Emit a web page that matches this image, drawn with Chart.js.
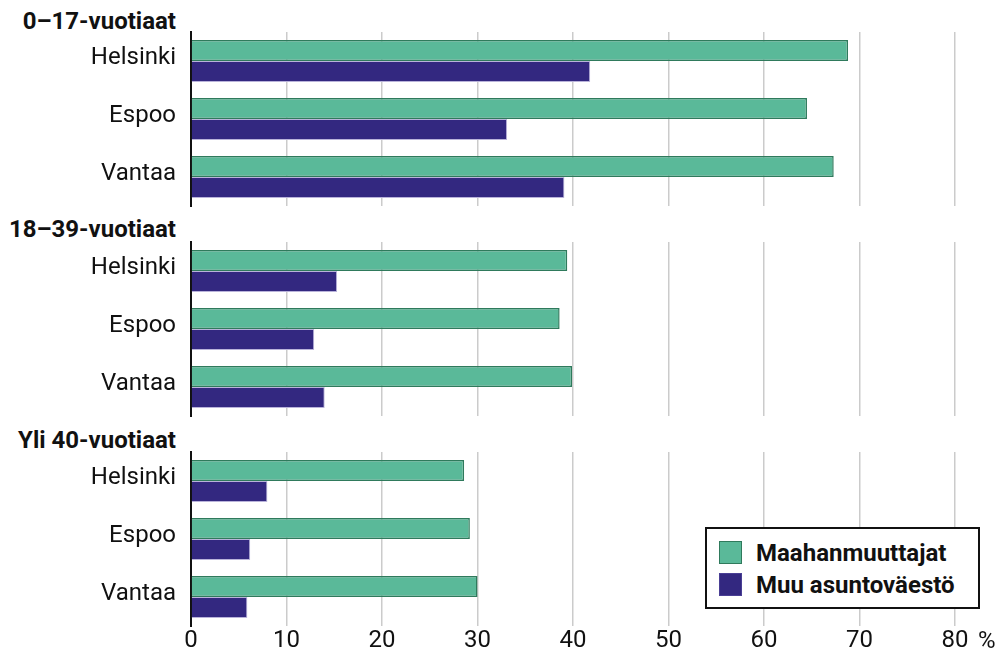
<!DOCTYPE html>
<html lang="fi">
<head>
<meta charset="utf-8">
<script src="https://cdn.jsdelivr.net/npm/chart.js@4/dist/chart.umd.min.js"></script>
<style>
  html, body { margin: 0; padding: 0; background: #fff; overflow: hidden; }
  body { width: 1005px; height: 652px; position: relative; font-family: Roboto, sans-serif; color: #111; }
  .panel { position: absolute; left: 0; width: 1005px; }
  .otsikko { position: absolute; left: 0; width: 176px; text-align: right; font-weight: bold; font-size: 24px; line-height: 24px; white-space: nowrap; }
  .prosentti { position: absolute; left: 978px; top: 628px; font-size: 24px; line-height: 24px; }
  #selite { position: absolute; left: 705px; top: 527px; width: 271px; height: 78px; border: 2px solid #111; background: #fff; }
  .rivi { position: absolute; left: 12px; height: 24px; font-weight: bold; font-size: 24px; line-height: 24px; white-space: nowrap; }
  .ruutu { position: absolute; left: 0; top: 0; width: 21px; height: 21px; border: 1.5px solid; }
  .rivi span { position: absolute; left: 37px; top: 0; }
</style>
</head>
<body>
<div class="otsikko" id="ot0" style="top: 9px;"></div>
<div class="otsikko" id="ot1" style="top: 217px;"></div>
<div class="otsikko" id="ot2" style="top: 428px;"></div>
<div class="panel" style="top: 30px; height: 178px;"><canvas id="kaavio0"></canvas></div>
<div class="panel" style="top: 240px; height: 178px;"><canvas id="kaavio1"></canvas></div>
<div class="panel" style="top: 450px; height: 214px;"><canvas id="kaavio2"></canvas></div>
<div class="prosentti">%</div>
<div id="selite"></div>

<script>
// Aineisto
const kaupungit = ['Helsinki', 'Espoo', 'Vantaa'];
const ikaryhmat = ['0–17-vuotiaat', '18–39-vuotiaat', 'Yli 40-vuotiaat'];
const sarjat = ['Maahanmuuttajat', 'Muu asuntoväestö'];

const maahanmuuttajat_0_17 = [68.8, 64.5, 67.3];
const muu_0_17 = [41.8, 33.1, 39.1];
const maahanmuuttajat_18_39 = [39.4, 38.6, 39.9];
const muu_18_39 = [15.3, 12.9, 14.0];
const maahanmuuttajat_40 = [28.6, 29.2, 30.0];
const muu_40 = [8.0, 6.2, 5.9];

const xTikit = [0, 10, 20, 30, 40, 50, 60, 70, 80];

const varit = ['#5ab999', '#332880'];
const reunat = ['#2f7a5c', '#b9b3da'];

Chart.defaults.font.family = 'Roboto';
Chart.defaults.font.size = 24;
Chart.defaults.color = '#111';

const paneelit = [
    [maahanmuuttajat_0_17, muu_0_17],
    [maahanmuuttajat_18_39, muu_18_39],
    [maahanmuuttajat_40, muu_40]
];

paneelit.forEach((arvot, i) => {
    document.getElementById('ot' + i).textContent = ikaryhmat[i];
    const alin = i === paneelit.length - 1;

    new Chart(document.getElementById('kaavio' + i), {
        type: 'bar',
        data: {
            labels: kaupungit,
            datasets: arvot.map((data, s) => ({
                label: sarjat[s],
                data: data,
                backgroundColor: varit[s],
                borderColor: reunat[s],
                borderWidth: s === 0 ? 1.5 : 1,
                borderSkipped: 'start',
                categoryPercentage: 0.72,
                barPercentage: 1
            }))
        },
        options: {
            indexAxis: 'y',
            responsive: true,
            maintainAspectRatio: false,
            animation: false,
            layout: { padding: { top: 2, bottom: alin ? 0 : 2, left: 0, right: 50 } },
            plugins: { legend: { display: false }, tooltip: { enabled: false } },
            scales: {
                x: {
                    min: 0,
                    max: 80,
                    afterBuildTicks: (scale) => { scale.ticks = xTikit.map(v => ({ value: v })); },
                    afterFit: (scale) => {
                        scale.height = alin ? 38 : 0;
                        scale.paddingLeft = 0;
                        scale.paddingRight = 0;
                    },
                    border: { display: false },
                    grid: {
                        drawTicks: false,
                        lineWidth: 1.5,
                        color: (ctx) => ctx.tick && ctx.tick.value === 0 ? 'rgba(0,0,0,0)' : '#cbcbcb'
                    },
                    ticks: { display: alin, padding: 1, maxRotation: 0, font: { size: 24 } }
                },
                y: {
                    z: 1,
                    afterFit: (scale) => {
                        scale.width = 191;
                        scale.paddingTop = 0;
                        scale.paddingBottom = 0;
                    },
                    border: { display: true, color: '#111', width: 2 },
                    grid: { display: false, drawTicks: false },
                    ticks: { padding: 15, labelOffset: -3, font: { size: 24 } }
                }
            }
        }
    });
});

// Selite
const selite = document.getElementById('selite');
sarjat.forEach((nimi, s) => {
    const rivi = document.createElement('div');
    rivi.className = 'rivi';
    rivi.style.top = (12 + s * 32) + 'px';
    const ruutu = document.createElement('div');
    ruutu.className = 'ruutu';
    ruutu.style.background = varit[s];
    ruutu.style.borderColor = s === 0 ? reunat[0] : '#4a3f95';
    const teksti = document.createElement('span');
    teksti.textContent = nimi;
    rivi.appendChild(ruutu);
    rivi.appendChild(teksti);
    selite.appendChild(rivi);
});
</script>
</body>
</html>
